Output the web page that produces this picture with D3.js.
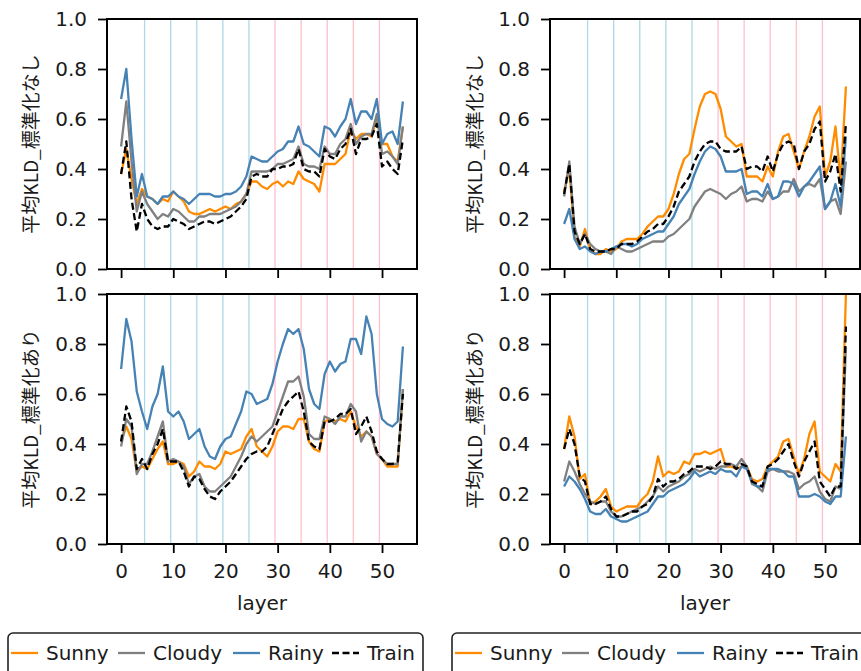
<!DOCTYPE html>
<html>
<head>
<meta charset="utf-8">
<script src="https://cdn.jsdelivr.net/npm/d3@7"></script>
<style>
  body { margin: 0; background: #fff; }
  svg text { font-family: "DejaVu Sans", sans-serif; fill: #1a1a1a; }
</style>
</head>
<body>
<svg id="chart" width="861" height="671"></svg>
<script>
// layers 0..54
const layers = d3.range(0, 55);
const seriesNames = ["Sunny", "Cloudy", "Rainy", "Train"];
const yTicks = [0, 0.2, 0.4, 0.6, 0.8, 1.0];
const xTicks = [0, 10, 20, 30, 40, 50];
const blueLines = [4.5, 9.5, 14.5, 19.5, 24.5];
const pinkLines = [29.5, 34.5, 39.5, 44.5, 49.5];
const yLabels = ["平均KLD_標準化なし", "平均KLD_標準化なし", "平均KLD_標準化あり", "平均KLD_標準化あり"];

// top-left
const tlSunny = [0.38,0.48,0.36,0.26,0.32,0.29,0.28,0.26,0.28,0.27,0.31,0.29,0.27,0.23,0.22,0.22,0.23,0.24,0.23,0.24,0.25,0.24,0.26,0.27,0.30,0.35,0.35,0.33,0.32,0.34,0.35,0.33,0.35,0.34,0.39,0.36,0.35,0.34,0.31,0.42,0.42,0.42,0.44,0.46,0.56,0.52,0.54,0.54,0.53,0.60,0.50,0.50,0.45,0.43,0.57];
const tlCloudy = [0.49,0.67,0.43,0.23,0.31,0.26,0.23,0.20,0.22,0.21,0.24,0.23,0.21,0.19,0.19,0.21,0.21,0.22,0.22,0.22,0.23,0.24,0.25,0.27,0.30,0.39,0.39,0.39,0.39,0.40,0.42,0.42,0.43,0.44,0.49,0.42,0.41,0.41,0.40,0.49,0.46,0.46,0.50,0.52,0.58,0.50,0.53,0.54,0.54,0.62,0.46,0.47,0.45,0.42,0.57];
const tlRainy = [0.68,0.80,0.52,0.29,0.38,0.29,0.28,0.26,0.29,0.29,0.31,0.29,0.28,0.26,0.28,0.30,0.30,0.30,0.29,0.29,0.30,0.30,0.31,0.33,0.37,0.45,0.44,0.43,0.43,0.45,0.47,0.48,0.51,0.51,0.57,0.50,0.49,0.47,0.45,0.57,0.56,0.53,0.57,0.60,0.68,0.58,0.63,0.63,0.60,0.68,0.50,0.54,0.55,0.50,0.67];
const tlTrain = [0.38,0.51,0.28,0.15,0.26,0.20,0.17,0.16,0.17,0.17,0.20,0.19,0.18,0.16,0.17,0.18,0.19,0.19,0.18,0.19,0.20,0.21,0.23,0.25,0.28,0.37,0.38,0.37,0.37,0.40,0.40,0.41,0.41,0.42,0.48,0.40,0.39,0.39,0.37,0.48,0.45,0.44,0.48,0.50,0.56,0.46,0.52,0.52,0.53,0.58,0.41,0.43,0.40,0.38,0.52];

// top-right
const trSunny = [0.31,0.40,0.13,0.09,0.16,0.08,0.06,0.06,0.08,0.07,0.08,0.11,0.12,0.12,0.12,0.14,0.17,0.19,0.21,0.21,0.24,0.30,0.38,0.44,0.46,0.56,0.65,0.70,0.71,0.70,0.64,0.53,0.51,0.49,0.50,0.37,0.37,0.37,0.35,0.41,0.37,0.47,0.53,0.54,0.47,0.40,0.47,0.53,0.61,0.65,0.37,0.43,0.57,0.35,0.73];
const trCloudy = [0.29,0.43,0.17,0.10,0.14,0.10,0.08,0.07,0.07,0.06,0.09,0.08,0.07,0.07,0.08,0.09,0.10,0.11,0.11,0.11,0.13,0.14,0.16,0.18,0.20,0.25,0.28,0.31,0.32,0.31,0.30,0.28,0.30,0.31,0.33,0.27,0.28,0.28,0.27,0.31,0.28,0.29,0.31,0.31,0.36,0.31,0.33,0.34,0.33,0.36,0.24,0.27,0.28,0.22,0.43];
const trRainy = [0.18,0.24,0.12,0.08,0.09,0.07,0.06,0.07,0.07,0.08,0.09,0.10,0.10,0.09,0.10,0.12,0.13,0.14,0.15,0.15,0.18,0.21,0.26,0.29,0.32,0.38,0.43,0.47,0.49,0.48,0.45,0.39,0.39,0.39,0.40,0.30,0.31,0.31,0.29,0.34,0.28,0.29,0.35,0.35,0.34,0.29,0.33,0.35,0.38,0.41,0.24,0.27,0.34,0.25,0.53];
const trTrain = [0.30,0.42,0.15,0.10,0.14,0.08,0.07,0.07,0.07,0.08,0.08,0.10,0.10,0.10,0.11,0.13,0.15,0.16,0.18,0.18,0.21,0.25,0.31,0.34,0.37,0.43,0.47,0.50,0.51,0.51,0.48,0.47,0.47,0.47,0.49,0.40,0.41,0.41,0.39,0.45,0.39,0.46,0.50,0.51,0.50,0.40,0.47,0.50,0.56,0.59,0.35,0.39,0.46,0.31,0.58];

// bottom-left
const blSunny = [0.41,0.47,0.42,0.29,0.31,0.30,0.34,0.38,0.41,0.32,0.32,0.33,0.32,0.27,0.29,0.33,0.31,0.31,0.30,0.32,0.37,0.36,0.37,0.38,0.43,0.46,0.39,0.37,0.35,0.39,0.45,0.47,0.47,0.46,0.50,0.50,0.41,0.38,0.37,0.49,0.50,0.49,0.50,0.49,0.53,0.47,0.43,0.45,0.43,0.36,0.34,0.31,0.31,0.31,0.62];
const blCloudy = [0.39,0.50,0.47,0.28,0.32,0.32,0.37,0.43,0.49,0.33,0.34,0.33,0.31,0.24,0.27,0.28,0.23,0.21,0.21,0.23,0.25,0.27,0.31,0.35,0.40,0.43,0.41,0.43,0.45,0.47,0.53,0.59,0.65,0.65,0.67,0.59,0.44,0.42,0.42,0.51,0.50,0.48,0.51,0.51,0.56,0.53,0.41,0.45,0.43,0.36,0.34,0.32,0.32,0.32,0.62];
const blRainy = [0.70,0.90,0.81,0.61,0.53,0.46,0.55,0.60,0.71,0.53,0.51,0.53,0.49,0.42,0.44,0.46,0.39,0.35,0.34,0.39,0.42,0.43,0.48,0.53,0.61,0.60,0.56,0.57,0.58,0.64,0.73,0.80,0.86,0.84,0.86,0.78,0.62,0.56,0.54,0.68,0.73,0.69,0.72,0.73,0.82,0.82,0.76,0.91,0.84,0.60,0.50,0.48,0.47,0.49,0.79];
const blTrain = [0.41,0.55,0.49,0.30,0.34,0.30,0.36,0.40,0.46,0.33,0.33,0.33,0.29,0.23,0.27,0.26,0.22,0.19,0.18,0.21,0.23,0.25,0.28,0.31,0.34,0.36,0.37,0.37,0.39,0.44,0.49,0.54,0.57,0.59,0.61,0.53,0.41,0.39,0.38,0.49,0.49,0.50,0.52,0.52,0.54,0.44,0.47,0.51,0.45,0.37,0.34,0.32,0.32,0.33,0.60];

// bottom-right
const brSunny = [0.38,0.51,0.43,0.26,0.28,0.16,0.17,0.19,0.22,0.15,0.13,0.14,0.15,0.15,0.15,0.18,0.20,0.25,0.35,0.27,0.29,0.28,0.29,0.33,0.32,0.36,0.36,0.37,0.36,0.37,0.38,0.31,0.31,0.30,0.31,0.31,0.26,0.25,0.26,0.31,0.33,0.35,0.41,0.42,0.35,0.28,0.34,0.44,0.49,0.29,0.27,0.25,0.32,0.29,1.00];
const brCloudy = [0.25,0.33,0.29,0.24,0.20,0.17,0.16,0.17,0.17,0.13,0.11,0.11,0.12,0.13,0.14,0.15,0.17,0.19,0.23,0.21,0.23,0.24,0.25,0.27,0.28,0.30,0.29,0.30,0.31,0.30,0.31,0.31,0.32,0.31,0.34,0.31,0.24,0.23,0.21,0.29,0.30,0.29,0.29,0.29,0.28,0.22,0.24,0.25,0.27,0.21,0.18,0.17,0.23,0.22,0.79];
const brRainy = [0.23,0.27,0.25,0.22,0.18,0.13,0.12,0.12,0.14,0.11,0.10,0.09,0.09,0.10,0.11,0.12,0.13,0.16,0.19,0.19,0.21,0.22,0.23,0.24,0.26,0.29,0.27,0.28,0.29,0.28,0.30,0.29,0.29,0.27,0.31,0.30,0.25,0.23,0.23,0.30,0.30,0.30,0.29,0.27,0.27,0.19,0.19,0.19,0.20,0.19,0.17,0.16,0.19,0.19,0.43];
const brTrain = [0.38,0.46,0.40,0.27,0.25,0.16,0.16,0.17,0.19,0.14,0.11,0.11,0.12,0.13,0.13,0.15,0.16,0.19,0.26,0.23,0.25,0.25,0.26,0.28,0.29,0.31,0.31,0.31,0.30,0.31,0.33,0.32,0.32,0.30,0.32,0.31,0.25,0.24,0.23,0.31,0.32,0.34,0.37,0.40,0.33,0.27,0.33,0.37,0.41,0.25,0.22,0.19,0.23,0.23,0.87];

const colors = { Sunny: "#ff8c00", Cloudy: "#808080", Rainy: "#4682b4", Train: "#000000" };

const panels = [
  { x: 107, y: 19, data: [tlSunny, tlCloudy, tlRainy, tlTrain], label: yLabels[0], labelX: 33 },
  { x: 550, y: 19, data: [trSunny, trCloudy, trRainy, trTrain], label: yLabels[1], labelX: 477 },
  { x: 107, y: 294, data: [blSunny, blCloudy, blRainy, blTrain], label: yLabels[2], labelX: 33, bottom: true },
  { x: 550, y: 294, data: [brSunny, brCloudy, brRainy, brTrain], label: yLabels[3], labelX: 477, bottom: true }
];
const pw = 310, ph = 250;

const svg = d3.select("#chart");

const x = d3.scaleLinear().domain([-2.7, 56.7]).range([0, pw]);
const y = d3.scaleLinear().domain([0, 1]).range([ph, 0]);

panels.forEach(p => {
  const g = svg.append("g").attr("transform", `translate(${p.x},${p.y})`);

  g.selectAll(".vb").data(blueLines).enter().append("line")
    .attr("x1", d => x(d)).attr("x2", d => x(d))
    .attr("y1", 0).attr("y2", ph)
    .attr("stroke", "#add8e6").attr("stroke-width", 1.3);
  g.selectAll(".vp").data(pinkLines).enter().append("line")
    .attr("x1", d => x(d)).attr("x2", d => x(d))
    .attr("y1", 0).attr("y2", ph)
    .attr("stroke", "#ffc0cb").attr("stroke-width", 1.3);

  const line = d3.line().x((d, i) => x(layers[i])).y(d => y(d));
  p.data.forEach((vals, si) => {
    const name = seriesNames[si];
    g.append("path")
      .attr("d", line(vals))
      .attr("fill", "none")
      .attr("stroke", colors[name])
      .attr("stroke-width", 2.3)
      .attr("stroke-linejoin", "round")
      .attr("stroke-dasharray", name === "Train" ? "7,3.5" : null);
  });

  const yAxis = g.append("g").call(d3.axisLeft(y).tickValues(yTicks).tickFormat(d3.format(".1f")).tickSize(9).tickPadding(11));
  // top row shares x with the bottom row: ticks only, no labels
  const xAxis = g.append("g").attr("transform", `translate(0,${ph})`)
    .call(d3.axisBottom(x).tickValues(xTicks).tickFormat(p.bottom ? d3.format("d") : "").tickSize(9).tickPadding(11));
  [yAxis, xAxis].forEach(a => {
    a.select(".domain").remove();
    a.selectAll("line").attr("stroke", "#000").attr("stroke-width", 1.8);
    a.selectAll("text").style("font-size", "20px").style("font-family", "DejaVu Sans").attr("fill", "#1a1a1a");
  });

  g.append("rect").attr("width", pw).attr("height", ph)
    .attr("fill", "none").attr("stroke", "#000").attr("stroke-width", 2);

  svg.append("text")
    .attr("transform", `translate(${p.labelX},${p.y + ph / 2}) rotate(-90)`)
    .attr("text-anchor", "middle")
    .attr("dominant-baseline", "middle")
    .style("font-family", "'Noto Sans CJK JP', sans-serif")
    .style("font-size", "19px")
    .text(p.label);

  if (p.bottom) {
    svg.append("text")
      .attr("x", p.x + pw / 2).attr("y", 610)
      .attr("text-anchor", "middle")
      .style("font-size", "20px")
      .text("layer");
  }
});

// legends
[8, 452].forEach(lx => {
  const lg = svg.append("g").attr("transform", `translate(${lx},633)`);
  lg.append("rect").attr("width", 415).attr("height", 50).attr("rx", 5)
    .attr("fill", "#fff").attr("stroke", "#222").attr("stroke-width", 1.6);
  const offsets = [3, 110, 225, 324];
  seriesNames.forEach((name, i) => {
    const ox = offsets[i];
    lg.append("line")
      .attr("x1", ox).attr("x2", ox + 27).attr("y1", 20).attr("y2", 20)
      .attr("stroke", colors[name]).attr("stroke-width", 2.3)
      .attr("stroke-dasharray", name === "Train" ? "7,3.5" : null);
    lg.append("text")
      .attr("x", ox + 35).attr("y", 27)
      .style("font-size", "20px")
      .text(name);
  });
});
</script>
</body>
</html>
